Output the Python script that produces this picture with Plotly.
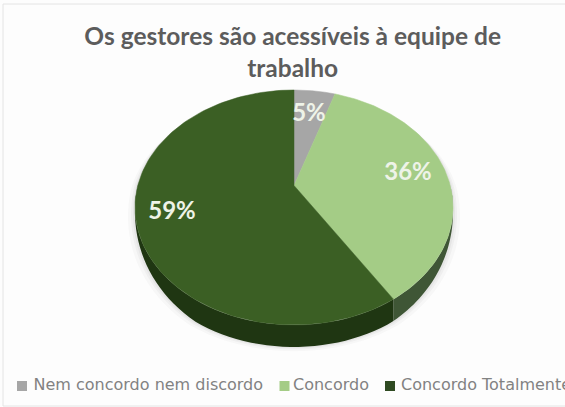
import numpy as np
import plotly.graph_objects as go

categories = ["Nem concordo nem discordo", "Concordo", "Concordo Totalmente"]
values = [5, 36, 59]
face_colors = ["#a6a6a6", "#a4cc86", "#3b5f24"]
wall_colors = ["#6f6f6f", "#3f5636", "#1f3612"]
title_text = "Os gestores são acessíveis à equipe de<br>trabalho"
label_positions = [(309, 115), (408, 174), (172, 213)]
legend_key_x = [22, 284.5, 390]
legend_text_x = [33.5, 293, 401]

WIDTH, HEIGHT = 565, 407
APEX_X, ELLIPSE_Y, APEX_RISE = 294, 207.5, 22
HALF_W, HALF_H, TILT, DEPTH = 156.2, 117.5, 0.187, 22


def project(theta):
    """Tilted-disc projection of clockwise angles (radians from 12 o'clock)."""
    u, v = np.sin(theta), np.cos(theta)
    w = 1 + TILT * v
    return APEX_X + HALF_W * u / w, ELLIPSE_Y - (HALF_H * v + APEX_RISE) / w


def wall_depth(theta):
    """Wall height as seen from above: full at the front, tapering toward the sides."""
    return DEPTH * np.clip(-np.cos(theta) / 0.85, 0, 1)


fractions = np.cumsum([0] + values) / sum(values)
fig = go.Figure()

# Soft ground shadow beneath the disc
all_angles = np.linspace(0, 2 * np.pi, 181)
rim_x, rim_y = project(all_angles)
rim_depth = wall_depth(all_angles)
for grow, alpha in [(7, 0.03), (4, 0.04), (2, 0.05)]:
    fig.add_trace(go.Scatter(
        x=APEX_X + (rim_x - APEX_X) * (1 + grow / 160), y=rim_y + rim_depth + grow * 0.6,
        fill="toself", mode="none", fillcolor=f"rgba(60,60,60,{alpha})",
        hoverinfo="skip", showlegend=False))

# Side wall of each slice
for start, end, color in zip(fractions[:-1], fractions[1:], wall_colors):
    t = np.linspace(start, end, 90) * 2 * np.pi
    x, y = project(t)
    fig.add_trace(go.Scatter(
        x=np.r_[x, x[::-1]], y=np.r_[y, (y + wall_depth(t))[::-1]],
        fill="toself", mode="none", fillcolor=color,
        hoverinfo="skip", showlegend=False))

# Top face of each slice
for name, start, end, color in zip(categories, fractions[:-1], fractions[1:], face_colors):
    t = np.linspace(start, end, 120) * 2 * np.pi
    x, y = project(t)
    fig.add_trace(go.Scatter(
        x=np.r_[APEX_X, x, APEX_X], y=np.r_[ELLIPSE_Y - APEX_RISE, y, ELLIPSE_Y - APEX_RISE],
        fill="toself", mode="lines", line=dict(color=color, width=0.5),
        fillcolor=color, name=name, hoverinfo="name", showlegend=False))

# Percentage labels on the slices
fig.add_trace(go.Scatter(
    x=[p[0] for p in label_positions], y=[p[1] for p in label_positions],
    mode="text", text=[f"{v}%" for v in values],
    textposition="middle center", hoverinfo="skip", showlegend=False,
    textfont=dict(family="Lato", size=24, color="#eef3e8", weight="bold")))

# Legend row along the bottom; the last entry runs off the page edge
LEGEND_Y = 386
key_colors = face_colors[:2] + ["#2f4a22"]
fig.add_trace(go.Scatter(
    x=legend_key_x, y=[LEGEND_Y] * 3, mode="markers",
    marker=dict(symbol="square", size=10, color=key_colors),
    hoverinfo="skip", showlegend=False))
fig.add_trace(go.Scatter(
    x=legend_text_x, y=[LEGEND_Y] * 3, mode="text", text=categories,
    textposition="middle right", hoverinfo="skip", showlegend=False, cliponaxis=False,
    textfont=dict(family="DejaVu Sans", size=16, color="#828282")))

fig.update_layout(
    width=WIDTH, height=HEIGHT, margin=dict(l=0, r=0, t=0, b=0),
    paper_bgcolor="#fdfdfd", plot_bgcolor="#fdfdfd",
    xaxis=dict(range=[0, WIDTH], visible=False, fixedrange=True),
    yaxis=dict(range=[HEIGHT, 0], visible=False, fixedrange=True),
    title=dict(text=title_text, x=0.518, xanchor="center", y=0.889, yanchor="middle",
               font=dict(family="Lato", size=24.5, color="#5c5c5c", weight="bold")),
    shapes=[dict(type="rect", x0=3, x1=575, y0=4, y1=406,
                 line=dict(color="#e4e4e4", width=1), layer="below")],
)
fig.write_html("out.html")
